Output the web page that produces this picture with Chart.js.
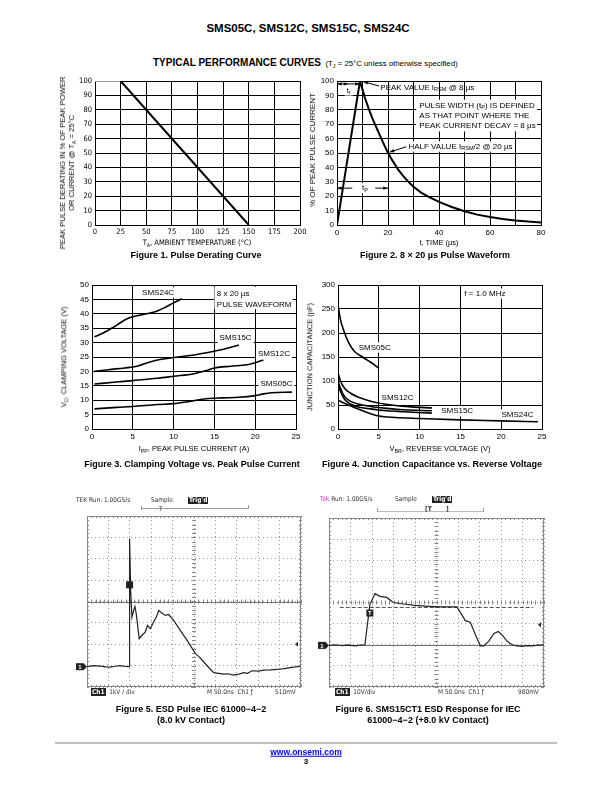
<!DOCTYPE html>
<html>
<head>
<meta charset="utf-8">
<script src="https://cdn.jsdelivr.net/npm/chart.js@4.4.1/dist/chart.umd.min.js"></script>
<style>
body { margin: 0; width: 612px; height: 792px; position: relative; background: #fff; overflow: hidden;
       font-family: "Liberation Sans", Arial, sans-serif; color: #000; }
.t { position: absolute; white-space: nowrap; line-height: 1; }
.c { transform: translate(-50%, -50%); }
.rot { transform: translate(-50%, -50%) rotate(-90deg); text-align: center; }
.nar { font-family: "Liberation Sans Narrow", "DejaVu Sans Condensed", "Liberation Sans", sans-serif; }
.cap { font-weight: bold; font-size: 9px; }
.ax { font-size: 7.5px; }
sub { font-size: 70%; vertical-align: -1.5px; line-height: 0; }
canvas { position: absolute; }
.sc { position: absolute; white-space: nowrap; line-height: 1; font-size: 6.5px; color: #333;
      font-family: "Liberation Sans Narrow", "DejaVu Sans Condensed", "Liberation Sans", sans-serif; }
.blk { background: #222; color: #fff; padding: 0 1px; font-weight: bold; }
.hl { position: absolute; height: 1px; background: #999; }
.vl { position: absolute; width: 1px; background: #999; }
</style>
</head>
<body>

<div class="t c" style="left:308px;top:29px;font-size:11.5px;font-weight:bold">SMS05C, SMS12C, SMS15C, SMS24C</div>
<div class="t" style="left:153px;top:53px;color:#000"><b style="font-size:10px">TYPICAL PERFORMANCE CURVES</b> <span style="font-size:7.8px;color:#000">(T<sub>J</sub> = 25°C unless otherwise specified)</span></div>

<!-- Figure 1 -->
<canvas id="fig1"></canvas>
<div class="t rot" style="left:67px;top:163px;font-size:7.6px;line-height:9px">PEAK PULSE DERATING IN % OF PEAK POWER<br>OR CURRENT @ T<sub>A</sub> = 25°C</div>
<div class="t nar c" style="left:197px;top:243px;font-size:7.5px">T<sub>A</sub>, AMBIENT TEMPERATURE (°C)</div>
<div class="t c cap" style="left:196px;top:255px">Figure 1. Pulse Derating Curve</div>

<!-- Figure 2 -->
<canvas id="fig2"></canvas>
<div class="t rot ax" style="left:313px;top:150px;font-size:8px">% OF PEAK PULSE CURRENT</div>
<div class="t c ax" style="left:439px;top:243px">t, TIME (µs)</div>
<div class="t c cap" style="left:435px;top:255px">Figure 2. 8 × 20 µs Pulse Waveform</div>

<!-- Figure 3 -->
<canvas id="fig3"></canvas>
<div class="t rot ax" style="left:64px;top:357px">V<sub>C</sub>, CLAMPING VOLTAGE (V)</div>
<div class="t c ax" style="left:194px;top:449px">I<sub>PP</sub>, PEAK PULSE CURRENT (A)</div>
<div class="t c cap" style="left:192px;top:464px">Figure 3. Clamping Voltage vs. Peak Pulse Current</div>

<!-- Figure 4 -->
<canvas id="fig4"></canvas>
<div class="t rot ax" style="left:310px;top:357px">JUNCTION CAPACITANCE (pF)</div>
<div class="t c ax" style="left:440px;top:449px">V<sub>BR</sub>, REVERSE VOLTAGE (V)</div>
<div class="t c cap" style="left:432px;top:464px">Figure 4. Junction Capacitance vs. Reverse Voltage</div>

<!-- Figure 5 scope -->
<div class="sc" style="left:76px;top:497px">TEK Run: 1.00GS/s</div>
<div class="sc" style="left:151px;top:497px">Sample</div>
<div class="sc blk" style="left:188px;top:497px">Trig'd</div>
<div class="hl" style="left:141px;top:508px;width:107px"></div>
<div class="vl" style="left:141px;top:506px;height:4px"></div>
<div class="vl" style="left:248px;top:505px;height:4px"></div>
<div class="sc" style="left:159px;top:506px">T</div>
<canvas id="fig5"></canvas>
<div class="sc" style="left:91px;top:689px"><span class="blk">Ch1</span>&nbsp; 1kV / div</div>
<div class="sc" style="left:207px;top:689px">M 50.0ns&nbsp; Ch1 ƒ</div>
<div class="sc" style="left:275px;top:689px">510mV</div>
<div class="t c cap" style="left:191px;top:709px">Figure 5. ESD Pulse IEC 61000−4−2</div>
<div class="t c cap" style="left:191px;top:720px">(8.0 kV Contact)</div>

<!-- Figure 6 scope -->
<div class="sc" style="left:320px;top:496px"><span style="color:#e020d0">Tek</span> Run: 1.00GS/s</div>
<div class="sc" style="left:395px;top:496px">Sample</div>
<div class="sc blk" style="left:432px;top:496px">Trig'd</div>
<div class="hl" style="left:377px;top:511px;width:107px;background:#bbb"></div>
<div class="vl" style="left:377px;top:508px;height:4px"></div>
<div class="vl" style="left:483px;top:508px;height:4px"></div>
<div class="sc" style="left:425px;top:506px;font-weight:bold">[T</div>
<div class="sc" style="left:446px;top:506px;font-weight:bold">]</div>
<canvas id="fig6"></canvas>
<div class="sc" style="left:335px;top:689px"><span class="blk">Ch1</span>&nbsp; 10V/div</div>
<div class="sc" style="left:438px;top:689px">M 50.0ns&nbsp; Ch1 ƒ</div>
<div class="sc" style="left:518px;top:689px">980mV</div>
<div class="t c cap" style="left:428px;top:709px">Figure 6. SMS15CT1 ESD Response for IEC</div>
<div class="t c cap" style="left:428px;top:720px">61000−4−2 (+8.0 kV Contact)</div>

<div style="position:absolute;left:55px;top:742px;width:502px;height:2px;background:#c0c0c0"></div>
<div class="t c" style="left:306px;top:752px;font-size:8.5px;font-weight:bold;color:#00f;text-decoration:underline">www.onsemi.com</div>
<div class="t c" style="left:306px;top:762px;font-size:8px;font-weight:bold">3</div>

<script>
// Figure 1: derating
const deratingTemp = [0, 25, 150];
const deratingPct = [100, 100, 0];

// Figure 2: 8 x 20 us waveform
const pulseTime = [0, 9, 10, 11, 12, 13, 14, 15, 16, 17, 18, 19, 20, 22, 24, 26, 28, 30, 33, 36, 40, 45, 50, 55, 60, 65, 70, 75, 80];
const pulsePct = [0, 100, 94, 88, 83, 78, 73.5, 69.5, 65.5, 61.5, 57.5, 53.7, 50, 44, 38.5, 34, 30, 26.5, 22.5, 19.5, 16, 12.5, 9.5, 7.2, 5.5, 4.2, 3.2, 2.4, 1.8];

// Figure 3: clamping voltage vs peak pulse current
const ipp24 = [0.3, 1.5, 3, 4.3, 5.5, 7, 8, 9, 10, 11];
const vc24 = [32, 33.5, 36, 38.3, 39.3, 40.2, 41, 42.3, 43.8, 45.2];
const ipp15 = [0.3, 2, 4, 5.5, 7, 8.5, 10, 12, 14, 16, 18];
const vc15 = [20, 20.6, 21.2, 21.8, 23.2, 24.2, 24.8, 25.5, 26.5, 27.6, 29.2];
const ipp12 = [0.3, 3, 5, 8, 10, 12.5, 14, 15, 17, 19, 20, 21];
const vc12 = [15.6, 16.3, 16.8, 17.6, 18.3, 19.2, 20.3, 21.2, 21.8, 22.3, 23, 24];
const ipp05 = [0.3, 3, 5, 8, 10, 12, 14, 16, 18, 20, 21, 22, 24.5];
const vc05 = [7, 7.5, 7.8, 8.5, 8.8, 9.6, 10.5, 10.8, 11, 11.6, 12.2, 12.6, 12.8];

// Figure 4: junction capacitance vs reverse voltage
const vbr05 = [0, 0.3, 0.7, 1.3, 2, 3, 4, 5];
const cj05 = [258, 228, 205, 180, 162, 150, 139, 127];
const vbr12 = [0, 0.3, 0.8, 1.5, 2.5, 4, 5, 7, 9, 11.5];
const cj12 = [117, 100, 85, 75, 66, 58, 54, 49, 46, 44];
const vbr15 = [0, 0.3, 0.8, 1.5, 2.5, 4, 6, 8, 11.5];
const cj15a = [100, 85, 68, 58, 52, 47, 43, 40, 38];
const cj15b = [94, 78, 62, 52, 46, 42, 38, 36, 33];
const vbr24 = [0, 1, 2, 3, 4, 5, 7, 10, 15, 20, 24.5];
const cj24 = [60, 52, 45, 38, 32, 27, 24, 22, 19, 17, 15];

// Figure 5: ESD pulse trace (divisions)
const esdX = [0, 0.3, 0.62, 0.9, 1.09, 1.3, 1.56, 1.8, 1.97, 1.99, 2.04, 2.1, 2.18, 2.24, 2.3, 2.44, 2.57, 2.72, 2.83, 2.96, 3.11, 3.24, 3.35, 3.5, 3.66, 3.81, 4.05, 4.36, 4.67, 5.06, 5.25, 5.45, 5.7, 5.92, 6.15, 6.38, 6.6, 6.85, 7.1, 7.32, 7.5, 7.71, 8.0, 8.25, 8.55, 8.88, 9.2, 9.5, 9.75, 9.97];
const esdY = [-3.05, -3.0, -3.02, -3.06, -3.07, -3.03, -3.0, -3.04, -3.05, 2.95, 0.51, -0.73, -0.42, -0.23, -0.57, -1.74, -1.58, -1.43, -1.12, -1.27, -0.96, -0.73, -0.42, -0.54, -0.65, -0.61, -0.88, -1.35, -1.81, -2.43, -2.6, -2.82, -3.1, -3.33, -3.36, -3.4, -3.38, -3.44, -3.4, -3.33, -3.36, -3.24, -3.26, -3.21, -3.2, -3.18, -3.14, -3.09, -3.06, -3.02];

// Figure 6: SMS15CT1 response trace (divisions)
const rspX = [0, 0.3, 0.6, 0.9, 1.2, 1.45, 1.67, 1.9, 2.14, 2.37, 2.68, 2.99, 3.38, 4.0, 4.63, 5.25, 5.95, 6.11, 6.34, 6.57, 6.81, 7.04, 7.2, 7.43, 7.66, 7.87, 8.05, 8.29, 8.52, 8.75, 8.99, 9.2, 9.46, 9.7, 10.0];
const rspY = [-2.03, -2.0, -2.04, -2.01, -2.05, -2.02, -2.0, -0.1, 0.42, 0.29, 0.24, 0.0, -0.06, -0.14, -0.18, -0.21, -0.21, -0.47, -0.86, -0.93, -1.53, -2.05, -2.05, -1.84, -1.48, -1.37, -1.53, -1.84, -2.0, -2.05, -2.08, -2.04, -2.05, -2.02, -2.0];

const SANS = '"Liberation Sans", Arial, sans-serif';
const NARROW = '"Liberation Sans Narrow", "DejaVu Sans Condensed", "Liberation Sans", sans-serif';

const pts = (xs, ys) => xs.map((x, i) => ({ x, y: ys[i] }));

function splitSub(s) {
  const out = [];
  const re = /_\{([^}]*)\}/g;
  let last = 0, m;
  while ((m = re.exec(s))) {
    if (m.index > last) out.push({ t: s.slice(last, m.index) });
    out.push({ t: m[1], sub: true });
    last = re.lastIndex;
  }
  if (last < s.length) out.push({ t: s.slice(last) });
  return out;
}

function richText(ctx, x, y, s, size, align, bg) {
  const parts = splitSub(s);
  let w = 0;
  parts.forEach(p => {
    ctx.font = (p.sub ? size * 0.7 : size) + 'px ' + SANS;
    p.w = ctx.measureText(p.t).width;
    w += p.w;
  });
  let x0 = align === 'center' ? x - w / 2 : align === 'right' ? x - w : x;
  if (bg) {
    ctx.fillStyle = '#fff';
    ctx.fillRect(x0 - 2, y - size * 0.65, w + 4, size * 1.3);
  }
  ctx.fillStyle = '#000';
  ctx.textAlign = 'left';
  ctx.textBaseline = 'middle';
  parts.forEach(p => {
    ctx.font = (p.sub ? size * 0.7 : size) + 'px ' + SANS;
    ctx.fillText(p.t, x0, p.sub ? y + size * 0.3 : y);
    x0 += p.w;
  });
}

function head(ctx, x0, y0, x1, y1) {
  const a = Math.atan2(y1 - y0, x1 - x0), L = 5;
  ctx.beginPath();
  ctx.moveTo(x1, y1);
  ctx.lineTo(x1 - L * Math.cos(a - 0.35), y1 - L * Math.sin(a - 0.35));
  ctx.lineTo(x1 - L * Math.cos(a + 0.35), y1 - L * Math.sin(a + 0.35));
  ctx.closePath();
  ctx.fill();
}

// text, boxes and arrows placed in data units
function notes(items) {
  return {
    id: 'notes',
    afterDatasetsDraw(chart) {
      const ctx = chart.ctx;
      const px = v => chart.scales.x.getPixelForValue(v);
      const py = v => chart.scales.y.getPixelForValue(v);
      ctx.save();
      items.forEach(n => {
        if (n.box) {
          ctx.fillStyle = '#fff';
          ctx.fillRect(px(n.box[0]), py(n.box[3]), px(n.box[2]) - px(n.box[0]), py(n.box[1]) - py(n.box[3]));
        }
        if (n.arrow) {
          const [a, b, c, d] = n.arrow.map((v, i) => i % 2 ? py(v) : px(v));
          ctx.strokeStyle = '#000'; ctx.fillStyle = '#000'; ctx.lineWidth = 1;
          ctx.beginPath(); ctx.moveTo(a, b); ctx.lineTo(c, d); ctx.stroke();
          head(ctx, a, b, c, d);
          if (n.both) head(ctx, c, d, a, b);
        }
        if (n.text) richText(ctx, px(n.x), py(n.y), n.text, n.size || 8, n.align || 'center', n.bg);
      });
      ctx.restore();
    }
  };
}

function linePlot(id, box, xo, yo, datasets, items, font) {
  const cv = document.getElementById(id);
  const padL = 34, padT = 8, padR = 14, padB = 14;
  cv.style.left = (box.l - padL) + 'px';
  cv.style.top = (box.t - padT) + 'px';
  cv.width = box.r - box.l + padL + padR;
  cv.height = box.b - box.t + padT + padB;
  const axis = (o, isY) => ({
    type: 'linear', min: o.min, max: o.max,
    ticks: {
      stepSize: o.step, autoSkip: false, padding: 3, color: '#000',
      maxRotation: 0, font: font,
      callback: v => (o.label && v % o.label) ? '' : v
    },
    grid: { color: '#000', lineWidth: 1, drawTicks: false },
    border: { color: '#000', width: 1 },
    afterFit: s => { if (isY) s.width = padL; else s.height = padB; }
  });
  return new Chart(cv, {
    type: 'line',
    data: { datasets },
    options: {
      responsive: false, animation: false, events: [],
      layout: { padding: { top: padT, right: padR, left: 0, bottom: 0 } },
      plugins: { legend: { display: false }, tooltip: { enabled: false } },
      elements: { point: { radius: 0 } },
      scales: { x: axis(xo, false), y: axis(yo, true) }
    },
    plugins: [notes(items || [])]
  });
}

const curve = (label, xs, ys, extra) => Object.assign({
  label, data: pts(xs, ys), borderColor: '#000', borderWidth: 1.6,
  cubicInterpolationMode: 'monotone', pointRadius: 0, fill: false
}, extra || {});

// Figure 1
linePlot('fig1', { l: 95, t: 81, r: 300, b: 225 },
  { min: 0, max: 200, step: 25 }, { min: 0, max: 100, step: 10 },
  [curve('Derating', deratingTemp, deratingPct, {
    borderWidth: 2, cubicInterpolationMode: 'default', tension: 0,
    segment: { borderColor: c => c.p0DataIndex === 0 ? '#999' : '#000' }
  })],
  [], { family: NARROW, size: 7.5 });

// Figure 2
linePlot('fig2', { l: 337, t: 81, r: 541, b: 225 },
  { min: 0, max: 80, step: 10, label: 20 }, { min: 0, max: 100, step: 10 },
  [curve('Pulse', pulseTime, pulsePct, { borderWidth: 2, cubicInterpolationMode: 'default', tension: 0 })],
  [
    { arrow: [4.5, 98, 0, 98], both: true },
    { arrow: [4.5, 98, 9, 98] },
    { x: 4.6, y: 93.5, text: 't_{r}', bg: true },
    { arrow: [16.5, 96.5, 10.3, 99.5] },
    { x: 17, y: 95.5, text: 'PEAK VALUE I_{RSM} @ 8 µs', align: 'left' },
    { box: [31, 65, 78.5, 87] },
    { x: 32.3, y: 83, text: 'PULSE WIDTH (t_{P}) IS DEFINED', align: 'left' },
    { x: 32.3, y: 76, text: 'AS THAT POINT WHERE THE', align: 'left' },
    { x: 32.3, y: 69, text: 'PEAK CURRENT DECAY = 8 µs', align: 'left' },
    { arrow: [27.5, 54.5, 20.6, 50.6] },
    { x: 28, y: 54.5, text: 'HALF VALUE I_{RSM}/2 @ 20 µs', align: 'left', bg: true },
    { arrow: [6, 25.6, 0, 25.6] },
    { arrow: [15, 25.6, 20, 25.6] },
    { x: 11, y: 25.6, text: 't_{P}', bg: true }
  ], { family: SANS, size: 8 });

// Figure 3
linePlot('fig3', { l: 92, t: 285, r: 296, b: 429 },
  { min: 0, max: 25, step: 5 }, { min: 0, max: 50, step: 5 },
  [
    curve('SMS24C', ipp24, vc24),
    curve('SMS15C', ipp15, vc15),
    curve('SMS12C', ipp12, vc12),
    curve('SMS05C', ipp05, vc05)
  ],
  [
    { x: 8.1, y: 47.4, text: 'SMS24C', bg: true },
    { box: [15, 41.6, 24.6, 49.4] },
    { x: 15.3, y: 46.8, text: '8 x 20 µs', align: 'left' },
    { x: 15.3, y: 43.2, text: 'PULSE WAVEFORM', align: 'left' },
    { x: 17.6, y: 31.5, text: 'SMS15C', bg: true },
    { x: 22.3, y: 26.2, text: 'SMS12C', bg: true },
    { x: 22.6, y: 15.6, text: 'SMS05C', bg: true }
  ], { family: SANS, size: 8 });

// Figure 4
linePlot('fig4', { l: 338, t: 285, r: 542, b: 429 },
  { min: 0, max: 25, step: 5 }, { min: 0, max: 300, step: 50 },
  [
    curve('SMS05C', vbr05, cj05),
    curve('SMS12C', vbr12, cj12),
    curve('SMS15C', vbr15, cj15a),
    curve('SMS15C b', vbr15, cj15b),
    curve('SMS24C', vbr24, cj24)
  ],
  [
    { x: 18, y: 282, text: 'f = 1.0 MHz', bg: true },
    { x: 4.5, y: 170, text: 'SMS05C', bg: true },
    { x: 7.3, y: 66, text: 'SMS12C', bg: true },
    { x: 14.6, y: 37, text: 'SMS15C', bg: true },
    { x: 22, y: 30, text: 'SMS24C', bg: true }
  ], { family: SANS, size: 8 });

// oscilloscope screens
function scopeDecor(cfg) {
  return {
    id: 'scopeDecor',
    beforeDatasetsDraw(chart) {
      const ctx = chart.ctx, a = chart.chartArea;
      const px = v => chart.scales.x.getPixelForValue(v);
      const py = v => chart.scales.y.getPixelForValue(v);
      ctx.save();
      ctx.strokeStyle = '#888'; ctx.lineWidth = 1;
      ctx.strokeRect(a.left + 0.5, a.top + 0.5, a.width - 1, a.height - 1);
      // minor ticks on frame and centre lines
      ctx.beginPath();
      for (let v = 0; v <= 10.001; v += 0.2) {
        const x = Math.round(px(v)) + 0.5;
        ctx.moveTo(x, a.top); ctx.lineTo(x, a.top + 2);
        ctx.moveTo(x, a.bottom); ctx.lineTo(x, a.bottom - 2);
        ctx.moveTo(x, py(0) - 2); ctx.lineTo(x, py(0) + 2);
      }
      for (let v = -4; v <= 4.001; v += 0.2) {
        const y = Math.round(py(v)) + 0.5;
        ctx.moveTo(a.left, y); ctx.lineTo(a.left + 2, y);
        ctx.moveTo(a.right, y); ctx.lineTo(a.right - 2, y);
        ctx.moveTo(px(5) - 2, y); ctx.lineTo(px(5) + 2, y);
      }
      ctx.stroke();
      (cfg.solid || []).forEach(v => {
        ctx.strokeStyle = '#777';
        ctx.beginPath(); ctx.moveTo(a.left, Math.round(py(v)) + 0.5); ctx.lineTo(a.right, Math.round(py(v)) + 0.5); ctx.stroke();
      });
      if (cfg.cursor) {
        ctx.strokeStyle = '#555'; ctx.setLineDash([4, 2]);
        const y = Math.round(py(cfg.cursor[0])) + 0.5;
        ctx.beginPath(); ctx.moveTo(px(cfg.cursor[1]), y); ctx.lineTo(px(cfg.cursor[2]), y); ctx.stroke();
        ctx.setLineDash([]);
      }
      ctx.restore();
    },
    afterDatasetsDraw(chart) {
      const ctx = chart.ctx, a = chart.chartArea;
      const px = v => chart.scales.x.getPixelForValue(v);
      const py = v => chart.scales.y.getPixelForValue(v);
      ctx.save();
      // ground marker
      const gy = py(cfg.ground);
      ctx.fillStyle = '#222';
      ctx.fillRect(a.left - 11, gy - 3.5, 8, 7);
      ctx.beginPath(); ctx.moveTo(a.left - 3, gy - 3); ctx.lineTo(a.left, gy); ctx.lineTo(a.left - 3, gy + 3); ctx.fill();
      ctx.fillStyle = '#fff'; ctx.font = 'bold 6px ' + SANS; ctx.textAlign = 'center'; ctx.textBaseline = 'middle';
      ctx.fillText('1', a.left - 7, gy + 0.5);
      // trigger level marker
      const ty = py(cfg.level);
      ctx.fillStyle = '#222';
      ctx.beginPath(); ctx.moveTo(a.right - 6, ty); ctx.lineTo(a.right - 3, ty - 2.5); ctx.lineTo(a.right - 3, ty + 2.5); ctx.fill();
      // trigger point marker
      const mx = px(cfg.mark[0]), my = py(cfg.mark[1]);
      ctx.fillRect(mx - 3.5, my - 3.5, 7, 7);
      if (cfg.markT) {
        ctx.fillStyle = '#fff'; ctx.font = 'bold 6px ' + SANS;
        ctx.fillText('T', mx, my + 0.5);
      }
      ctx.restore();
    }
  };
}

function scope(id, box, xs, ys, cfg) {
  const cv = document.getElementById(id);
  const padL = 14, padR = 4, padT = 2, padB = 2;
  cv.style.left = (box.l - padL) + 'px';
  cv.style.top = (box.t - padT) + 'px';
  cv.width = box.r - box.l + padL + padR;
  cv.height = box.b - box.t + padT + padB;
  const axis = (min, max, isY) => ({
    type: 'linear', min, max,
    ticks: { stepSize: 1, display: false },
    grid: { color: '#9a9a9a', lineWidth: 1, drawTicks: false },
    border: { display: false, dash: [1, 3] },
    afterFit: s => { if (isY) s.width = 0; else s.height = 0; }
  });
  return new Chart(cv, {
    type: 'line',
    data: { datasets: [{ label: 'Ch1', data: pts(xs, ys), borderColor: '#222', borderWidth: 1.2, pointRadius: 0, tension: 0 }] },
    options: {
      responsive: false, animation: false, events: [],
      layout: { padding: { left: padL, right: padR, top: padT, bottom: padB } },
      plugins: { legend: { display: false }, tooltip: { enabled: false } },
      scales: { x: axis(0, 10, false), y: axis(-4, 4, true) }
    },
    plugins: [scopeDecor(cfg)]
  });
}

scope('fig5', { l: 87, t: 516, r: 301, b: 687 }, esdX, esdY,
  { ground: -3.05, level: -2.0, mark: [1.99, 0.78], solid: [0] });
scope('fig6', { l: 329, t: 518, r: 544, b: 687 }, rspX, rspY,
  { ground: -2.03, level: -1.05, mark: [1.9, -0.5], markT: true, solid: [-2.03], cursor: [-0.21, 0.5, 9.5] });
</script>
</body>
</html>
